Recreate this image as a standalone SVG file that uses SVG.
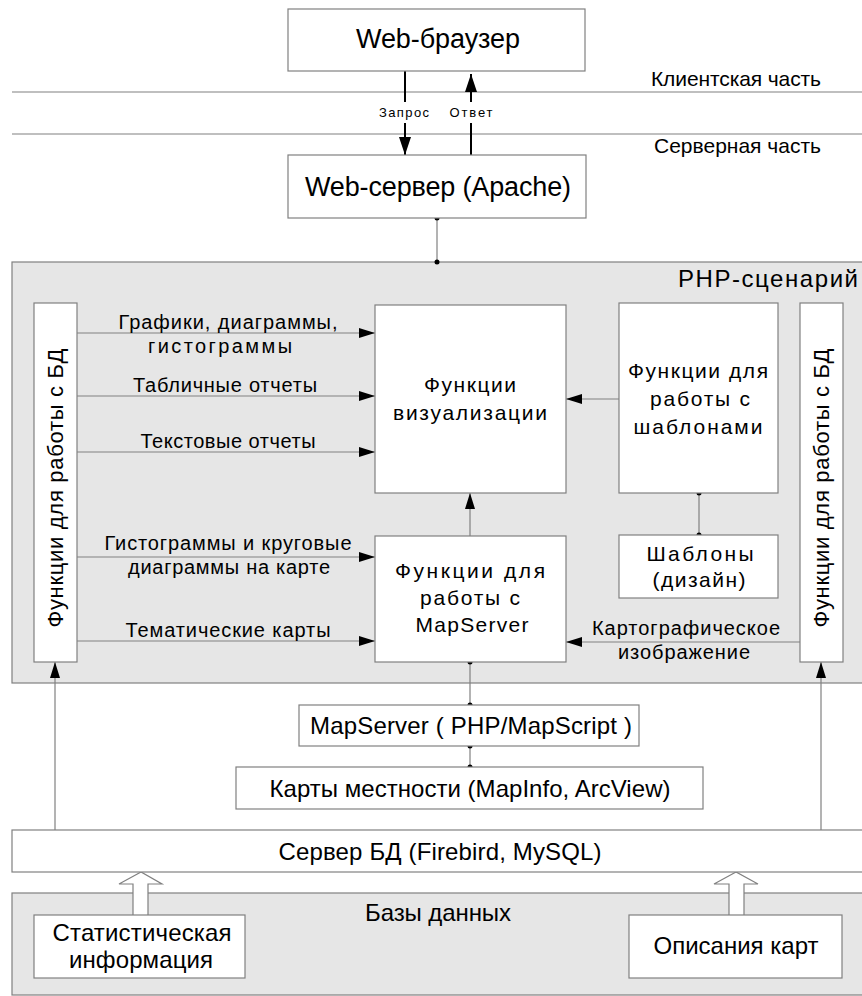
<svg xmlns="http://www.w3.org/2000/svg" width="862" height="996" viewBox="0 0 862 996">
<defs>
<style>
text{font-family:"Liberation Sans",Arial,sans-serif;fill:#000}
.box{fill:#fff;stroke:#808080;stroke-width:1.2}
.area{fill:#e6e6e6;stroke:#808080;stroke-width:1.2}
.sep{stroke:#808080;stroke-width:1.2;fill:none}
.con{stroke:#808080;stroke-width:1.2;fill:none}
.blk{stroke:#000;stroke-width:2;fill:none}
.t27{font-size:27px}
.t24{font-size:24px}
.t22{font-size:22px}
.t21{font-size:21px}
.t20{font-size:20px}
.t13{font-size:13px}
.m{text-anchor:middle}
</style>
<marker id="ah" viewBox="0 0 16 10" refX="16" refY="5" markerWidth="16" markerHeight="10" markerUnits="userSpaceOnUse" orient="auto">
<path d="M0,0 L16,5 L0,10 Z" fill="#000"/>
</marker>
<marker id="ahb" viewBox="0 0 18 12" refX="18" refY="6" markerWidth="18" markerHeight="12" markerUnits="userSpaceOnUse" orient="auto">
<path d="M0,0 L18,6 L0,12 Z" fill="#000"/>
</marker>
</defs>
<rect width="862" height="996" fill="#fff"/>

<g id="separators">
<line class="sep" x1="12" y1="92" x2="862" y2="92"/>
<line class="sep" x1="12" y1="134" x2="862" y2="134"/>
<text class="t21" x="651" y="86" textLength="170" lengthAdjust="spacing">Клиентская часть</text>
<text class="t21" x="654" y="153" textLength="167" lengthAdjust="spacing">Серверная часть</text>
</g>

<g id="php-area">
<rect class="area" x="12" y="262" width="860" height="421"/>
<text class="t24" x="858" y="287" text-anchor="end" textLength="180" lengthAdjust="spacing">PHP-сценарий</text>
</g>
<g id="db-area">
<rect class="area" x="12" y="893" width="860" height="102"/>
<text class="t24 m" x="438" y="921" textLength="146" lengthAdjust="spacing">Базы данных</text>
</g>

<g id="connectors">
<line class="blk" x1="405" y1="71" x2="405" y2="102"/>
<line class="blk" x1="405" y1="123" x2="405" y2="155" marker-end="url(#ahb)"/>
<line class="blk" x1="471" y1="155" x2="471" y2="123"/>
<line class="blk" x1="471" y1="102" x2="471" y2="74" marker-end="url(#ahb)"/>
<text class="t13 m" x="404" y="117" textLength="50" lengthAdjust="spacing">Запрос</text>
<text class="t13 m" x="471" y="117" textLength="43" lengthAdjust="spacing">Ответ</text>

<line class="con" x1="437" y1="218" x2="437" y2="262"/>
<circle cx="437" cy="218" r="2.5"/>
<circle cx="437" cy="262" r="2.5"/>

<line class="con" x1="77" y1="333" x2="375" y2="333" marker-end="url(#ah)"/>
<line class="con" x1="77" y1="396" x2="375" y2="396" marker-end="url(#ah)"/>
<line class="con" x1="77" y1="452" x2="375" y2="452" marker-end="url(#ah)"/>
<line class="con" x1="77" y1="557" x2="375" y2="557" marker-end="url(#ah)"/>
<line class="con" x1="77" y1="641" x2="375" y2="641" marker-end="url(#ah)"/>
<text class="t20 m" x="228" y="329" textLength="219" lengthAdjust="spacing">Графики, диаграммы,</text>
<text class="t20 m" x="220" y="353" textLength="144" lengthAdjust="spacing">гистограммы</text>
<text class="t20 m" x="225" y="392" textLength="184" lengthAdjust="spacing">Табличные отчеты</text>
<text class="t20 m" x="228" y="448" textLength="175" lengthAdjust="spacing">Текстовые отчеты</text>
<text class="t20 m" x="228" y="550" textLength="247" lengthAdjust="spacing">Гистограммы и круговые</text>
<text class="t20 m" x="229" y="574" textLength="202" lengthAdjust="spacing">диаграммы на карте</text>
<text class="t20 m" x="228" y="637" textLength="205" lengthAdjust="spacing">Тематические карты</text>

<line class="con" x1="619" y1="399" x2="566" y2="399" marker-end="url(#ah)"/>
<line class="con" x1="470" y1="536" x2="470" y2="493" marker-end="url(#ah)"/>
<line class="con" x1="699" y1="493" x2="699" y2="535"/>
<circle cx="699" cy="493" r="2.5"/>
<circle cx="699" cy="535" r="2.5"/>
<line class="con" x1="800" y1="642" x2="566" y2="642" marker-end="url(#ah)"/>
<text class="t20 m" x="686" y="635" textLength="188" lengthAdjust="spacing">Картографическое</text>
<text class="t20 m" x="684" y="659" textLength="132" lengthAdjust="spacing">изображение</text>

<line class="con" x1="470" y1="662" x2="470" y2="705"/>
<circle cx="470" cy="662" r="2.5"/>
<circle cx="470" cy="705" r="2.5"/>
<line class="con" x1="470" y1="746" x2="470" y2="767"/>
<circle cx="470" cy="746" r="2.5"/>
<circle cx="470" cy="767" r="2.5"/>

<line class="con" x1="55" y1="830" x2="55" y2="662" marker-end="url(#ah)"/>
<line class="con" x1="821" y1="830" x2="821" y2="662" marker-end="url(#ah)"/>

<polygon points="141,872 119,884 133,884 133,916 148,916 148,884 162,884" fill="#fff" stroke="#808080" stroke-width="1.2"/>
<polygon points="736,872 714,884 729,884 729,916 744,916 744,884 758,884" fill="#fff" stroke="#808080" stroke-width="1.2"/>
</g>

<g id="web-browser">
<rect class="box" x="288" y="9" width="297" height="62"/>
<text class="t27 m" x="438" y="48" textLength="164" lengthAdjust="spacing">Web-браузер</text>
</g>
<g id="web-server">
<rect class="box" x="288" y="155" width="298" height="63"/>
<text class="t27 m" x="438" y="196" textLength="266" lengthAdjust="spacing">Web-сервер (Apache)</text>
</g>
<g id="db-functions-left">
<rect class="box" x="34" y="303" width="43" height="359"/>
<text class="t22 m" transform="translate(63,488) rotate(-90)" x="0" y="0" textLength="279" lengthAdjust="spacing">Функции для работы с БД</text>
</g>
<g id="db-functions-right">
<rect class="box" x="800" y="303" width="43" height="359"/>
<text class="t22 m" transform="translate(829,488) rotate(-90)" x="0" y="0" textLength="279" lengthAdjust="spacing">Функции для работы с БД</text>
</g>
<g id="visualization">
<rect class="box" x="375" y="305" width="191" height="188"/>
<text class="t21 m" x="470" y="392" textLength="92" lengthAdjust="spacing">Функции</text>
<text class="t21 m" x="470" y="420" textLength="154" lengthAdjust="spacing">визуализации</text>
</g>
<g id="template-functions">
<rect class="box" x="619" y="303" width="159" height="190"/>
<text class="t21 m" x="698" y="378" textLength="140" lengthAdjust="spacing">Функции для</text>
<text class="t21 m" x="700" y="406" textLength="100" lengthAdjust="spacing">работы с</text>
<text class="t21 m" x="698" y="434" textLength="129" lengthAdjust="spacing">шаблонами</text>
</g>
<g id="templates">
<rect class="box" x="619" y="535" width="159" height="63"/>
<text class="t21 m" x="700" y="561" textLength="107" lengthAdjust="spacing">Шаблоны</text>
<text class="t21 m" x="699" y="587" textLength="93" lengthAdjust="spacing">(дизайн)</text>
</g>
<g id="mapserver-functions">
<rect class="box" x="375" y="536" width="191" height="126"/>
<text class="t21 m" x="470" y="578" textLength="150" lengthAdjust="spacing">Функции для</text>
<text class="t21 m" x="470" y="605" textLength="100" lengthAdjust="spacing">работы с</text>
<text class="t21 m" x="472" y="632" textLength="113" lengthAdjust="spacing">MapServer</text>
</g>
<g id="mapserver">
<rect class="box" x="299" y="705" width="340" height="41"/>
<text class="t24 m" x="471" y="734" textLength="322" lengthAdjust="spacing">MapServer ( PHP/MapScript )</text>
</g>
<g id="maps">
<rect class="box" x="236" y="767" width="467" height="42"/>
<text class="t24 m" x="470" y="797" textLength="401" lengthAdjust="spacing">Карты местности (MapInfo, ArcView)</text>
</g>
<g id="db-server">
<rect class="box" x="12" y="830" width="860" height="42"/>
<text class="t24 m" x="440" y="860" textLength="323" lengthAdjust="spacing">Сервер БД (Firebird, MySQL)</text>
</g>
<g id="statistics">
<rect class="box" x="34" y="915" width="211" height="63"/>
<text class="t24 m" x="142" y="941" textLength="179" lengthAdjust="spacing">Статистическая</text>
<text class="t24 m" x="141" y="968" textLength="144" lengthAdjust="spacing">информация</text>
</g>
<g id="map-descriptions">
<rect class="box" x="629" y="915" width="213" height="63"/>
<text class="t24 m" x="736" y="954" textLength="165" lengthAdjust="spacing">Описания карт</text>
</g>
</svg>
